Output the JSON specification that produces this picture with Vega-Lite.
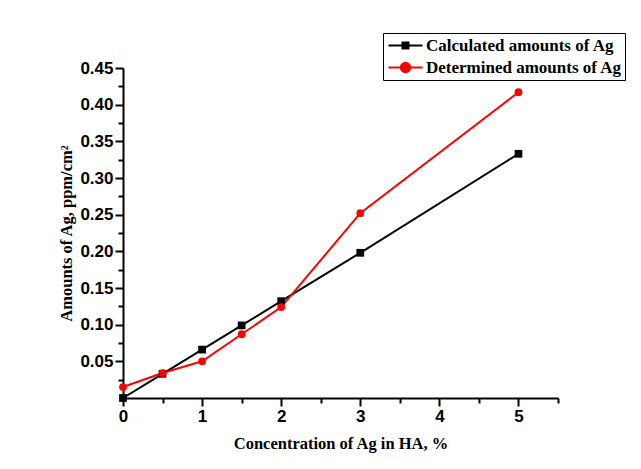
{
  "$schema": "https://vega.github.io/schema/vega-lite/v6.json",
  "width": 435,
  "height": 330,
  "autosize": {"type": "none"},
  "padding": {"left": 123, "top": 68, "right": 83, "bottom": 71},
  "background": "white",
  "config": {
    "view": {"stroke": null},
    "axis": {
      "grid": false,
      "domainColor": "black",
      "domainWidth": 2,
      "tickColor": "black",
      "tickWidth": 2,
      "labelFont": "Liberation Sans",
      "labelFontWeight": "bold",
      "labelFontSize": 17,
      "labelColor": "black",
      "labelFlush": false,
      "titleFont": "Liberation Serif",
      "titleFontWeight": "bold",
      "titleFontSize": 16.5,
      "titleColor": "black"
    }
  },
  "data": {
    "values": [
      {"x": 0, "y": 0.0, "series": "Calculated amounts of Ag"},
      {"x": 0.5, "y": 0.033, "series": "Calculated amounts of Ag"},
      {"x": 1, "y": 0.066, "series": "Calculated amounts of Ag"},
      {"x": 1.5, "y": 0.099, "series": "Calculated amounts of Ag"},
      {"x": 2, "y": 0.132, "series": "Calculated amounts of Ag"},
      {"x": 3, "y": 0.198, "series": "Calculated amounts of Ag"},
      {"x": 5, "y": 0.333, "series": "Calculated amounts of Ag"},
      {"x": 0, "y": 0.015, "series": "Determined amounts of Ag"},
      {"x": 0.5, "y": 0.034, "series": "Determined amounts of Ag"},
      {"x": 1, "y": 0.050, "series": "Determined amounts of Ag"},
      {"x": 1.5, "y": 0.087, "series": "Determined amounts of Ag"},
      {"x": 2, "y": 0.124, "series": "Determined amounts of Ag"},
      {"x": 3, "y": 0.252, "series": "Determined amounts of Ag"},
      {"x": 5, "y": 0.417, "series": "Determined amounts of Ag"}
    ]
  },
  "layer": [
    {
      "mark": {"type": "line", "strokeWidth": 2},
      "encoding": {
        "x": {
          "field": "x", "type": "quantitative",
          "scale": {"domain": [0, 5.5], "nice": false, "zero": false},
          "axis": {
            "orient": "bottom",
            "title": "Concentration of Ag in HA, %",
            "values": [0, 1, 2, 3, 4, 5],
            "format": "d",
            "tickSize": 8,
            "labelPadding": 2,
            "titlePadding": 11
          }
        },
        "y": {
          "field": "y", "type": "quantitative",
          "scale": {"domain": [0, 0.45], "nice": false, "zero": false},
          "axis": {
            "orient": "left",
            "title": "Amounts of Ag, ppm/cm²",
            "values": [0.05, 0.1, 0.15, 0.2, 0.25, 0.3, 0.35, 0.4, 0.45],
            "format": ".2f",
            "tickSize": 8,
            "labelPadding": 2,
            "titlePadding": 5
          }
        },
        "color": {
          "field": "series", "type": "nominal",
          "scale": {"domain": ["Calculated amounts of Ag", "Determined amounts of Ag"], "range": ["black", "#ff0000"]},
          "legend": {
            "title": null,
            "orient": "none",
            "legendX": 260,
            "legendY": -35,
            "padding": 3,
            "strokeColor": "black",
            "fillColor": "white",
            "symbolSize": 289,
            "symbolOffset": 10,
            "symbolStrokeWidth": 2,
            "labelOffset": 11,
            "labelLimit": 400,
            "rowPadding": 4,
            "labelFont": "Liberation Serif",
            "labelFontWeight": "bold",
            "labelFontSize": 17,
            "labelColor": "black",
            "encode": {
              "symbols": {
                "update": {
                  "shape": {"signal": "datum.value === 'Calculated amounts of Ag' ? 'M-2,0H2M-0.35,-0.35H0.35V0.35H-0.35Z' : 'M-2,0H2M0.55,0A0.55,0.55,0,1,1,-0.55,0A0.55,0.55,0,1,1,0.55,0Z'"},
                  "fill": {"scale": "color", "field": "value"},
                  "stroke": {"scale": "color", "field": "value"},
                  "strokeWidth": {"value": 2},
                  "opacity": {"value": 1}
                }
              }
            }
          }
        }
      }
    },
    {
      "mark": {"type": "point", "filled": true, "opacity": 1},
      "encoding": {
        "x": {
          "field": "x", "type": "quantitative",
          "axis": {
            "orient": "bottom",
            "title": null,
            "values": [0.5, 1.5, 2.5, 3.5, 4.5, 5.5],
            "labels": false,
            "domain": false,
            "tickSize": 5
          }
        },
        "y": {
          "field": "y", "type": "quantitative",
          "axis": {
            "orient": "left",
            "title": null,
            "values": [0.025, 0.075, 0.125, 0.175, 0.225, 0.275, 0.325, 0.375, 0.425],
            "labels": false,
            "domain": false,
            "tickSize": 5
          }
        },
        "color": {"field": "series", "type": "nominal", "legend": null},
        "shape": {
          "field": "series", "type": "nominal",
          "scale": {"domain": ["Calculated amounts of Ag", "Determined amounts of Ag"], "range": ["square", "circle"]},
          "legend": null
        },
        "size": {"value": 60}
      }
    }
  ],
  "resolve": {
    "axis": {"x": "independent", "y": "independent"},
    "legend": {"color": "independent", "shape": "independent"}
  }
}
